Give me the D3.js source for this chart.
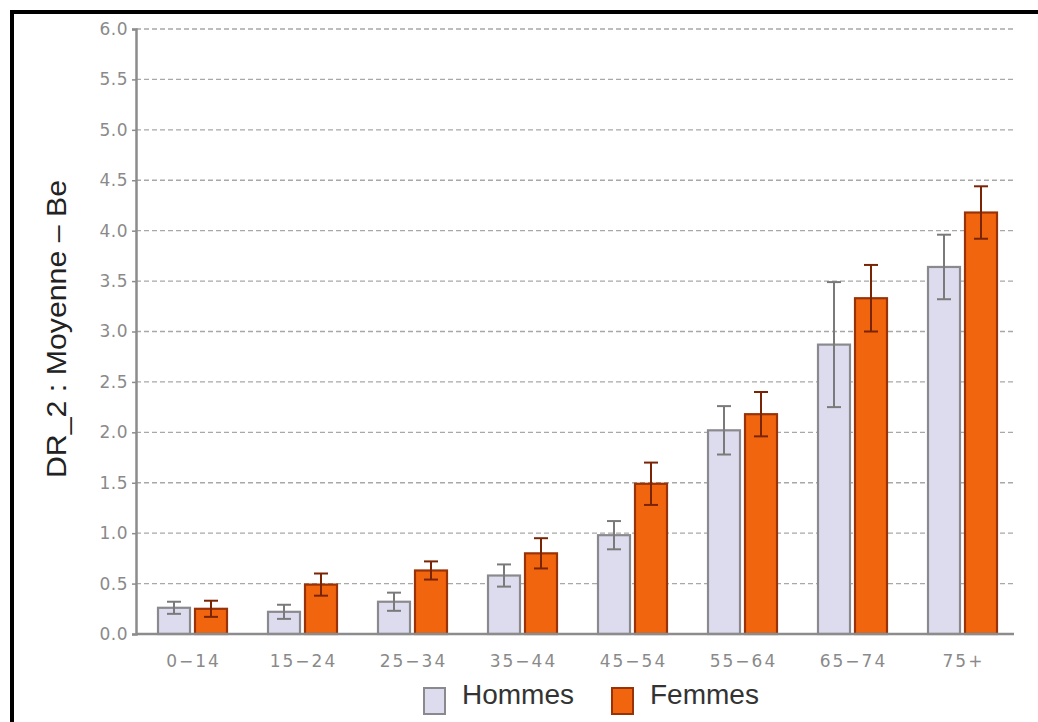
<!DOCTYPE html>
<html>
<head>
<meta charset="utf-8">
<script src="https://cdn.jsdelivr.net/npm/d3@7"></script>
<style>
  html, body { margin: 0; padding: 0; background: #fff; }
  svg { display: block; }
</style>
</head>
<body>
<svg id="chart" width="1038" height="722"></svg>
<script>
// Age groups and mean DR_2 per sex, with error-bar half-widths
const categories = ["0\u221214", "15\u221224", "25\u221234", "35\u221244", "45\u221254", "55\u221264", "65\u221274", "75+"];
const hommes      = [0.26, 0.22, 0.32, 0.58, 0.98, 2.02, 2.87, 3.64];
const hommesErr   = [0.06, 0.07, 0.09, 0.11, 0.14, 0.24, 0.62, 0.32];
const femmes      = [0.25, 0.49, 0.63, 0.80, 1.49, 2.18, 3.33, 4.18];
const femmesErr   = [0.08, 0.11, 0.09, 0.15, 0.21, 0.22, 0.33, 0.26];
const yTicks      = [0, 0.5, 1, 1.5, 2, 2.5, 3, 3.5, 4, 4.5, 5, 5.5, 6];
const seriesNames = ["Hommes", "Femmes"];

const series = [
  { name: seriesNames[0], values: hommes, err: hommesErr, fill: "#dcdcee", stroke: "#8a8a8e", errColor: "#7a7a7a" },
  { name: seriesNames[1], values: femmes, err: femmesErr, fill: "#f2650f", stroke: "#9a3208", errColor: "#7a2406" }
];

const svg = d3.select("#chart");

// Frame
svg.append("rect")
  .attr("x", 12).attr("y", 12)
  .attr("width", 1100).attr("height", 800)
  .attr("fill", "none").attr("stroke", "#000").attr("stroke-width", 4);

const plotL = 136, plotR = 1016, plotT = 29, plotB = 634;

const x = d3.scaleBand().domain(categories).range([plotL, plotR]).padding(0);
const y = d3.scaleLinear().domain([0, 6]).range([plotB, plotT]);

const barW = 32, gap = 5, shift = 1.5;
const offsets = [-(barW + gap / 2) + shift, gap / 2 + shift];

// Dashed grid lines
svg.append("g")
  .selectAll("line")
  .data(yTicks.filter(d => d > 0))
  .join("line")
  .attr("x1", plotL).attr("x2", plotR)
  .attr("y1", d => y(d)).attr("y2", d => y(d))
  .attr("stroke", "#a8a8a8").attr("stroke-width", 1.3)
  .attr("stroke-dasharray", "5,3");

// Y axis
const yAxis = svg.append("g")
  .attr("transform", `translate(${plotL},0)`)
  .call(d3.axisLeft(y).tickValues(yTicks).tickFormat(d3.format(".1f")).tickSize(4).tickPadding(4));
yAxis.select(".domain").attr("stroke", "#8c8c8c").attr("stroke-width", 2.5);
yAxis.selectAll(".tick line").attr("stroke", "#8c8c8c").attr("stroke-width", 1.5);
yAxis.selectAll(".tick text")
  .attr("fill", "#8a8a8a")
  .style("font-family", "'DejaVu Sans', sans-serif")
  .style("font-size", "17px")
  .style("letter-spacing", "0.5px");

// Bars
series.forEach((s, si) => {
  const g = svg.append("g");
  g.selectAll("rect")
    .data(categories)
    .join("rect")
    .attr("x", (c) => x(c) + x.bandwidth() / 2 + offsets[si])
    .attr("y", (c, i) => y(s.values[i]))
    .attr("width", barW)
    .attr("height", (c, i) => y(0) - y(s.values[i]))
    .attr("fill", s.fill)
    .attr("stroke", s.stroke)
    .attr("stroke-width", 2.2);
});

// X axis baseline
svg.append("line")
  .attr("x1", plotL).attr("x2", plotR - 2)
  .attr("y1", y(0)).attr("y2", y(0))
  .attr("stroke", "#8c8c8c").attr("stroke-width", 2.5);

// Error bars
series.forEach((s, si) => {
  const g = svg.append("g").attr("stroke", s.errColor).attr("stroke-width", 2);
  categories.forEach((c, i) => {
    const cx = x(c) + x.bandwidth() / 2 + offsets[si] + barW / 2;
    const hi = y(s.values[i] + s.err[i]);
    const lo = y(s.values[i] - s.err[i]);
    g.append("line").attr("x1", cx).attr("x2", cx).attr("y1", hi).attr("y2", lo);
    g.append("line").attr("x1", cx - 7).attr("x2", cx + 7).attr("y1", hi).attr("y2", hi);
    g.append("line").attr("x1", cx - 7).attr("x2", cx + 7).attr("y1", lo).attr("y2", lo);
  });
});

// X labels
svg.append("g")
  .selectAll("text")
  .data(categories)
  .join("text")
  .attr("x", c => x(c) + x.bandwidth() / 2 + shift + 1)
  .attr("y", 667)
  .attr("text-anchor", "middle")
  .attr("fill", "#8a8a8a")
  .style("font-family", "'DejaVu Sans', sans-serif")
  .style("font-size", "17px")
  .style("letter-spacing", "2px")
  .text(c => c);

// Y axis title
svg.append("text")
  .attr("transform", "translate(66,329) rotate(-90)")
  .attr("text-anchor", "middle")
  .attr("fill", "#222")
  .attr("textLength", 298)
  .attr("lengthAdjust", "spacingAndGlyphs")
  .style("font-family", "'Liberation Sans', Arial, sans-serif")
  .style("font-size", "27px")
  .text("DR_2 : Moyenne  \u2013  Be");

// Legend
const legendItems = [
  { s: series[0], x: 424, tx: 462 },
  { s: series[1], x: 612, tx: 650 }
];
legendItems.forEach(d => {
  svg.append("rect")
    .attr("x", d.x).attr("y", 688)
    .attr("width", 21).attr("height", 26)
    .attr("fill", d.s.fill).attr("stroke", d.s.stroke).attr("stroke-width", 2);
  svg.append("text")
    .attr("x", d.tx).attr("y", 704)
    .attr("fill", "#333")
    .style("font-family", "'Liberation Sans', Arial, sans-serif")
    .style("font-size", "28px")
    .text(d.s.name);
});
</script>
</body>
</html>
